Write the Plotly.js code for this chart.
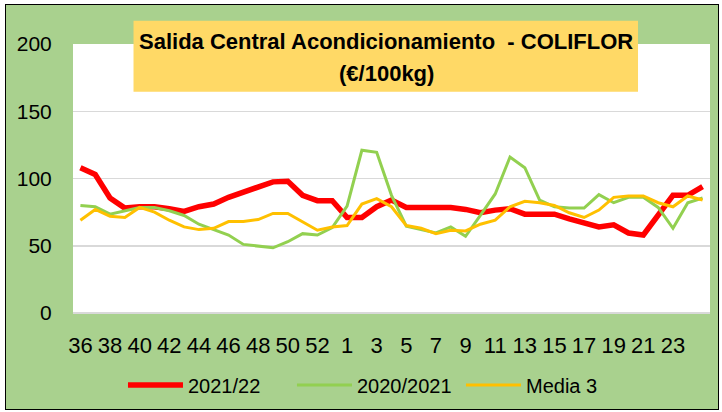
<!DOCTYPE html>
<html>
<head>
<meta charset="utf-8">
<script src="https://cdn.plot.ly/plotly-3.0.1.min.js"></script>
<style>
html,body{margin:0;padding:0;background:#fff}
#chart{position:absolute;left:5px;top:4px;width:712px;height:404px;border:1px solid #000;background:#A9D18E}
</style>
</head>
<body>
<div id="chart"></div>
<script>
// Weeks (season 2021/22: week 36 to week 25)
const weeks = ["36","37","38","39","40","41","42","43","44","45","46","47","48","49","50","51","52","53",
  "1","2","3","4","5","6","7","8","9","10","11","12","13","14","15","16","17","18","19","20","21","22","23","24","25"];
const tickLabels = ["36","38","40","42","44","46","48","50","52","1","3","5","7","9","11","13","15","17","19","21","23"];

const serie2122 = [108,103,85.5,78,79,79,77.5,75.5,79,81,86,90,94,97.5,98,87.5,83.5,83.5,
  71,71,79,84,78.5,78.5,77.5,78.5,77,74.5,76.5,77.5,73.5,73.5,73.5,70,67,64,65.5,59.5,58,72.5,87.5,87.5,94];
const serie2021 = [80,79,73.5,76,78.5,78.5,76,72.5,66,62,58,51,50,48.5,53,59,58,63.5,
  79.5,121,119.5,87.5,64.5,62,59.5,64,57,72.5,88.5,116,108,84,79,78,78,88,82,86,86,78.5,63,82,85.5];
const media3 = [69,77,72,71,78.5,75,69,64,62,63,68,68,69.5,74,74,67.5,61.5,64,
  65,81,85,79,65,63,59,61.5,61,66,69,79,83,82,80,74.5,71,76.5,86,87,87,82,79,87,84];

const names = ["2021/22","2020/2021","Media 3"];
const FONT = "'Liberation Sans', Arial, sans-serif";

const traces = [
  {x: weeks, y: serie2122, name: names[0], type: "scatter", mode: "lines",
   line: {color: "#FF0000", width: 5.5}},
  {x: weeks, y: serie2021, name: names[1], type: "scatter", mode: "lines",
   line: {color: "#92D050", width: 3}},
  {x: weeks, y: media3, name: names[2], type: "scatter", mode: "lines",
   line: {color: "#FFC000", width: 3}}
];

const layout = {
  width: 712, height: 404,
  margin: {l: 67, r: 8, t: 39, b: 96, autoexpand: false},
  paper_bgcolor: "#A9D18E",
  plot_bgcolor: "#FFFFFF",
  font: {family: FONT, color: "#000000", size: 20},
  showlegend: true,
  legend: {orientation: "h", xref: "container", yref: "container", x: 0.1643, xanchor: "left",
    y: 0.0594, yanchor: "middle",
    font: {family: FONT, size: 20, color: "#000"}, bgcolor: "rgba(0,0,0,0)",
    itemwidth: 55, entrywidth: 99, traceorder: "normal"},
  xaxis: {type: "category", range: [-0.5, 42.5], tickmode: "array", tickvals: tickLabels, ticktext: tickLabels,
    showgrid: false, zeroline: false, showline: false, ticks: "outside", ticklen: 13,
    tickcolor: "rgba(0,0,0,0)", tickfont: {family: FONT, size: 22, color: "#000"}, fixedrange: true},
  yaxis: {range: [0, 200], dtick: 50, tick0: 0, showgrid: true, gridcolor: "#D9D9D9", gridwidth: 1.5,
    zeroline: true, zerolinecolor: "#D9D9D9", zerolinewidth: 1.5, showline: false,
    ticks: "outside", ticklen: 16, tickcolor: "rgba(0,0,0,0)",
    tickfont: {family: FONT, size: 21, color: "#000"}, fixedrange: true},
  shapes: [
    {type: "rect", xref: "paper", yref: "paper", x0: 0.095, x1: 0.887, y0: 0.8227, y1: 1.0866,
     fillcolor: "#FFD966", line: {width: 0}, layer: "above"}
  ],
  annotations: [
    {xref: "paper", yref: "paper", x: 0.4915, y: 1.0086, xanchor: "center", yanchor: "middle",
     text: "<b>Salida Central Acondicionamiento  - COLIFLOR</b>", showarrow: false,
     font: {family: FONT, size: 22, color: "#000"}},
    {xref: "paper", yref: "paper", x: 0.4915, y: 0.891, xanchor: "center", yanchor: "middle",
     text: "<b>(€/100kg)</b>", showarrow: false,
     font: {family: FONT, size: 22, color: "#000"}}
  ]
};

Plotly.newPlot("chart", traces, layout, {displayModeBar: false, staticPlot: true});
</script>
</body>
</html>
